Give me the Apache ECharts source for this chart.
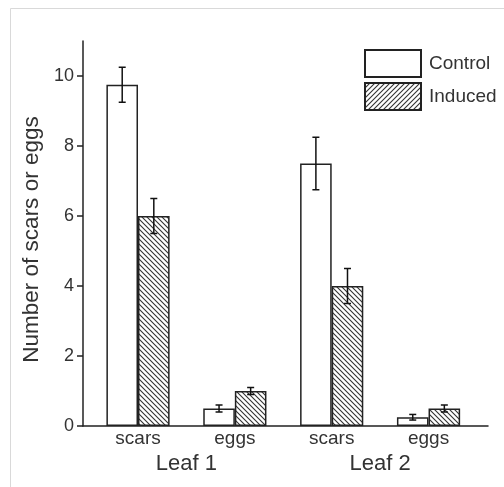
<!DOCTYPE html>
<html>
<head>
<meta charset="utf-8">
<script src="https://cdn.jsdelivr.net/npm/echarts@6/dist/echarts.min.js"></script>
<style>
  html, body { margin: 0; padding: 0; background: #fff; }
  #myChart { width: 504px; height: 487px; }
</style>
</head>
<body>
<div id="myChart"></div>
<script>
// data
const positions = [1, 2, 3, 4];
const barLabels = ['scars', 'eggs', 'scars', 'eggs'];
const leafLabels = ['Leaf 1', 'Leaf 2'];
const leafPositions = [1.5, 3.5];
const control = [9.75, 0.5, 7.5, 0.25];
const controlErr = [0.5, 0.1, 0.75, 0.08];
const induced = [6.0, 1.0, 4.0, 0.5];
const inducedErr = [0.5, 0.1, 0.5, 0.1];
const yTicks = [0, 2, 4, 6, 8, 10];

const barW = 31.6;
const font = '"Liberation Sans", Arial, sans-serif';

// hatch tile, dir 1 = '\', dir -1 = '/'
function hatch(dir) {
    const s = 5;
    const c = document.createElement('canvas');
    c.width = s; c.height = s;
    const ctx = c.getContext('2d');
    ctx.fillStyle = '#fff';
    ctx.fillRect(0, 0, s, s);
    ctx.strokeStyle = '#333';
    ctx.lineWidth = 1.1;
    ctx.beginPath();
    if (dir > 0) {
        ctx.moveTo(0, 0); ctx.lineTo(s, s);
        ctx.moveTo(-1, s - 1); ctx.lineTo(1, s + 1);
        ctx.moveTo(s - 1, -1); ctx.lineTo(s + 1, 1);
    } else {
        ctx.moveTo(0, s); ctx.lineTo(s, 0);
        ctx.moveTo(-1, 1); ctx.lineTo(1, -1);
        ctx.moveTo(s - 1, s + 1); ctx.lineTo(s + 1, s - 1);
    }
    ctx.stroke();
    return { image: c, repeat: 'repeat' };
}

const myChart = echarts.init(document.getElementById('myChart'), null, { renderer: 'canvas' });

function errSeries(name, vals, errs, side) {
    return {
        name: name,
        type: 'custom',
        silent: true,
        z: 5,
        data: positions.map((p, i) => [p, vals[i], errs[i]]),
        renderItem: function (params, api) {
            const x = api.value(0), v = api.value(1), e = api.value(2);
            const hi = api.coord([x, v + e]);
            const lo = api.coord([x, v - e]);
            const cx = hi[0] + side * barW / 2;
            const cap = 3.5;
            const st = { stroke: '#111', lineWidth: 1.5, fill: null };
            return {
                type: 'group',
                children: [
                    { type: 'line', shape: { x1: cx, y1: hi[1], x2: cx, y2: lo[1] }, style: st },
                    { type: 'line', shape: { x1: cx - cap, y1: hi[1], x2: cx + cap, y2: hi[1] }, style: st },
                    { type: 'line', shape: { x1: cx - cap, y1: lo[1], x2: cx + cap, y2: lo[1] }, style: st }
                ]
            };
        }
    };
}

const option = {
    animation: false,
    backgroundColor: '#fff',
    textStyle: { fontFamily: font },
    graphic: [{
        type: 'rect',
        shape: { x: 10.5, y: 8.5, width: 600, height: 600 },
        style: { fill: null, stroke: '#d9d9d9', lineWidth: 1 },
        silent: true
    }],
    grid: {
        left: 83, right: 16, top: 41, bottom: 61,
        containLabel: false,
        outerBoundsMode: 'none'
    },
    legend: {
        orient: 'vertical',
        left: 359, top: 44,
        itemWidth: 56, itemHeight: 27, itemGap: 4,
        icon: 'rect',
        textStyle: { fontSize: 19, color: '#333', fontFamily: font, padding: [0, 0, 0, 3] },
        data: [
            { name: 'Control' },
            { name: 'Induced', itemStyle: { color: hatch(-1) } }
        ]
    },
    xAxis: [{
        type: 'value',
        min: 0.432, max: 4.614,
        splitLine: { show: false },
        axisLine: { show: true, onZero: false, lineStyle: { color: '#222', width: 1.5 } },
        axisTick: { show: false },
        axisLabel: {
            customValues: positions,
            formatter: v => barLabels[Math.round(v) - 1],
            fontSize: 19, color: '#333', margin: 3, fontFamily: font
        }
    }, {
        type: 'value',
        position: 'bottom',
        min: 0.432, max: 4.614,
        splitLine: { show: false },
        axisLine: { show: false },
        axisTick: { show: false },
        axisLabel: {
            customValues: leafPositions,
            formatter: v => leafLabels[leafPositions.indexOf(v)],
            fontSize: 22, color: '#333', margin: 27, fontFamily: font
        }
    }],
    yAxis: {
        type: 'value',
        min: 0, max: 11,
        name: 'Number of scars or eggs',
        nameLocation: 'middle',
        nameGap: 37,
        nameTextStyle: { fontSize: 22.5, color: '#333', fontFamily: font, padding: [0, 12, 0, 0] },
        splitLine: { show: false },
        axisLine: { show: true, onZero: false, lineStyle: { color: '#222', width: 1.5 } },
        axisTick: { show: true, length: 6, customValues: yTicks, lineStyle: { color: '#222', width: 1.5 } },
        axisLabel: { customValues: yTicks, fontSize: 18, color: '#333', margin: 9, fontFamily: font }
    },
    series: [{
        name: 'Control',
        type: 'bar',
        barWidth: barW,
        barGap: '0%',
        data: positions.map((p, i) => [p, control[i]]),
        itemStyle: { color: '#fff', borderColor: '#222', borderWidth: 1.5 }
    }, {
        name: 'Induced',
        type: 'bar',
        barWidth: barW,
        barGap: '0%',
        data: positions.map((p, i) => [p, induced[i]]),
        itemStyle: { color: hatch(1), borderColor: '#222', borderWidth: 1.5 }
    },
    errSeries('ctrlErr', control, controlErr, -1),
    errSeries('indErr', induced, inducedErr, 1)
    ]
};
myChart.setOption(option);

window.addEventListener('resize', () => {
    myChart.resize();
});
</script>
</body>
</html>
